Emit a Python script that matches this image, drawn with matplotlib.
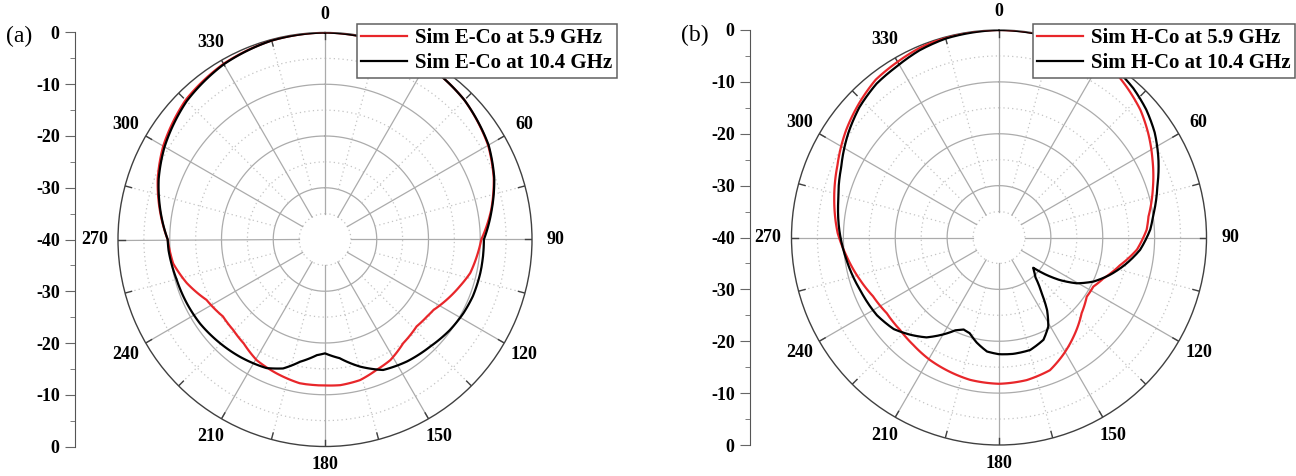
import matplotlib.pyplot as plt
from matplotlib.font_manager import FontProperties
import numpy as np

plt.rcParams['font.family'] = ['Liberation Serif', 'DejaVu Serif']

RED = '#e8262a'; DARK = '#404040'; GRID = '#ababab'; DOT = '#c4c4c4'

# (a) E-plane co-pol, angle in degrees (clockwise from top) -> gain in dB
e59_ang = [0, 15, 30, 45, 60, 70, 80, 90, 96.5, 103, 109, 116, 123, 127, 133.5,
           143, 151.5, 158.5, 166, 174, 180, 190, 200, 209.5, 218, 225.5, 233,
           243, 252.5, 261, 270, 280, 290, 300, 315, 330, 345, 360]
e59_db = [0, -0.2, -0.9, -1.9, -3.6, -5.3, -7.4, -9.8, -10.5, -11.2, -12.4, -13.7,
          -15.0, -15.3, -15.6, -14.9, -13.5, -12.9, -12.0, -11.7, -11.8, -11.8,
          -12.5, -13.2, -14.5, -15.1, -15.3, -14.3, -12.0, -10.3, -9.6, -7.6,
          -5.6, -3.9, -1.9, -0.8, -0.2, 0]
e104_ang = [0, 15, 30, 45, 60, 70, 80, 90, 94, 102, 111, 118, 126, 135.5, 146,
            156, 164.5, 173, 180, 184, 191.5, 198, 204.5, 216, 227, 236, 245,
            255, 266, 270, 280, 290, 300, 315, 330, 345, 360]
e104_db = [0, -0.2, -0.9, -1.9, -3.5, -5.2, -7.3, -9.3, -9.3, -9.3, -9.4, -9.7,
           -10.2, -11.0, -11.6, -12.4, -14.5, -16.9, -18.0, -17.6, -15.9, -13.8,
           -12.7, -12.0, -11.4, -10.9, -10.6, -10.3, -9.7, -9.6, -7.7, -5.8,
           -4.2, -2.2, -0.9, -0.2, 0]

# (b) H-plane co-pol
h59_ang = [0, 15, 25, 33, 40, 48, 55, 63, 72, 82, 87, 95, 103, 111.5, 117.5, 124,
           132.5, 143, 151.5, 159, 169, 180, 191.5, 201.5, 209.5, 218.5, 227,
           236, 245, 253, 263, 271.5, 283, 294, 305, 314, 322, 330, 337, 345, 360]
h59_db = [0, -0.05, -0.1, -0.7, -1.9, -3.3, -4.9, -6.8, -8.8, -10.9, -11.5,
          -13.3, -16.1, -18.4, -19.5, -19.6, -18.4, -16.1, -14.2, -12.6, -12.0,
          -11.8, -12.0, -12.5, -12.9, -13.5, -13.9, -13.9, -13.2, -12.0, -10.4,
          -8.9, -7.4, -5.9, -4.0, -2.6, -1.4, -0.9, -0.4, -0.1, 0]
h104_ang = [0, 15, 25, 35, 42, 49, 56, 64, 72, 82, 87, 95, 101.5, 108.5, 115,
            120.5, 125, 128.2, 131.5, 134, 137.5, 142.5, 146.5, 151, 156.5,
            164.5, 173, 180, 186, 192, 197, 201, 205, 209.5, 216, 222.5,
            229, 237.5, 249, 261.5, 272.5, 283, 294, 304.5, 313, 321.5, 329,
            337, 345, 360]
h104_db = [0, -0.1, -0.2, -0.5, -1.3, -2.4, -3.8, -5.8, -7.9, -10.0, -10.8,
           -12.7, -14.9, -17.4, -19.9, -22.6, -25.7, -28.3, -31.2, -30.6, -29.6,
           -26.5, -23.2, -20.4, -18.5, -17.5, -17.4, -17.5, -17.9, -19.3, -20.7,
           -21.0, -20.3, -18.6, -16.2, -14.6, -13.1, -12.1, -11.4, -10.3, -9.2,
           -8.2, -6.7, -4.7, -3.2, -2.1, -1.6, -0.8, -0.3, 0]

# the 30 deg label sits under the legend box, so it is left out
angle_labels = [0, 60, 90, 120, 150, 180, 210, 240, 270, 300, 330]
r_ticks = [-40, -30, -20, -10, 0, 10, 20, 30, 40]

W, H = 1296, 476
TICK_FONT = FontProperties(family='Liberation Serif', weight='bold', size=13)
LEG_FONT = FontProperties(family='Liberation Serif', weight='bold', size=15)


def polar_panel(rect, series, labels, legend_xy):
    ax = fig.add_axes(rect, projection='polar')
    ax.set_theta_zero_location('N')
    ax.set_theta_direction(-1)
    ax.set_ylim(-40, 0)
    ax.set_xticks([]); ax.set_yticks([])
    ax.grid(False)
    ax.spines['polar'].set_color(DARK)
    ax.spines['polar'].set_linewidth(1.0)

    t = np.linspace(0, 2 * np.pi, 721)
    for r in [-30, -20, -10]:
        ax.plot(t, np.full_like(t, r), color=GRID, lw=0.9, zorder=1)
    for r in [-35, -25, -15, -5]:
        ax.plot(t, np.full_like(t, r), color=DOT, lw=0.9, ls=(0, (1, 2.5)), zorder=1)
    for a in range(0, 360, 30):
        ax.plot([np.deg2rad(a)] * 2, [-35, 0], color=GRID, lw=0.9, zorder=1)
    for a in range(15, 360, 30):
        ax.plot([np.deg2rad(a)] * 2, [-30, 0], color=DOT, lw=0.9,
                ls=(0, (1, 2.5)), zorder=1)
    for a in range(0, 360, 15):
        ax.plot([np.deg2rad(a)] * 2, [-1.3, 0], color=DARK, lw=1.0, zorder=2)

    for a in angle_labels:
        off = 3.5 + 1.1 * abs(np.sin(np.deg2rad(a)))
        ax.text(np.deg2rad(a), off, str(a), ha='center', va='center',
                fontproperties=TICK_FONT, clip_on=False, zorder=2)

    for (ang, db, col), lab in zip(series, labels):
        ln, = ax.plot(np.deg2rad(ang), db, color=col, lw=1.6, label=lab,
                      zorder=3, solid_joinstyle='round')
        # follow the polar grid between samples instead of straight chords
        ln.get_path()._interpolation_steps = 24

    leg = ax.legend(loc='upper left', bbox_to_anchor=legend_xy,
                    bbox_transform=fig.transFigure, fancybox=False,
                    framealpha=1, edgecolor='#606060', borderpad=0.2,
                    handlelength=2.2, handletextpad=0.4, labelspacing=0.25,
                    borderaxespad=0, prop=LEG_FONT)
    leg.get_frame().set_linewidth(1.1)
    leg.set_zorder(10)
    return ax


def radial_axis(x_px, top_px, bot_px):
    ax = fig.add_axes([x_px / W, 1 - bot_px / H, 0.0001, (bot_px - top_px) / H])
    for sp in ['top', 'right', 'bottom']:
        ax.spines[sp].set_visible(False)
    ax.spines['left'].set_color('#555555')
    ax.set_xticks([])
    ax.set_ylim(-40, 40)
    ax.set_yticks(r_ticks)
    ax.set_yticklabels([str(abs(v) - 40) for v in r_ticks])
    ax.set_yticks(np.arange(-35, 40, 10), minor=True)
    ax.tick_params(axis='y', which='major', length=7, color='#666666', pad=4)
    ax.tick_params(axis='y', which='minor', length=3.5, color='#666666')
    for lb in ax.get_yticklabels():
        lb.set_fontproperties(TICK_FONT)


fig = plt.figure(figsize=(W / 100, H / 100), dpi=100, facecolor='white')

# panel (a): center (325, 239.5), radius 207 px
polar_panel([118 / W, 1 - 446.5 / H, 414 / W, 414 / H],
            [(e59_ang, e59_db, RED), (e104_ang, e104_db, 'black')],
            ['Sim E-Co at 5.9 GHz', 'Sim E-Co at 10.4 GHz'],
            (357 / W, 1 - 24 / H))
radial_axis(75, 32.5, 446.5)
fig.text(6 / W, 1 - 36 / H, '(a)', fontsize=17, va='center', ha='left')

# panel (b): center (999, 237.5), radius 207.5 px
polar_panel([791.5 / W, 1 - 445 / H, 415 / W, 415 / H],
            [(h59_ang, h59_db, RED), (h104_ang, h104_db, 'black')],
            ['Sim H-Co at 5.9 GHz', 'Sim H-Co at 10.4 GHz'],
            (1033 / W, 1 - 24 / H))
radial_axis(750, 30, 445)
fig.text(681 / W, 1 - 35 / H, '(b)', fontsize=17, va='center', ha='left')

fig.savefig('out.png', dpi=100, facecolor='white')
plt.close(fig)
